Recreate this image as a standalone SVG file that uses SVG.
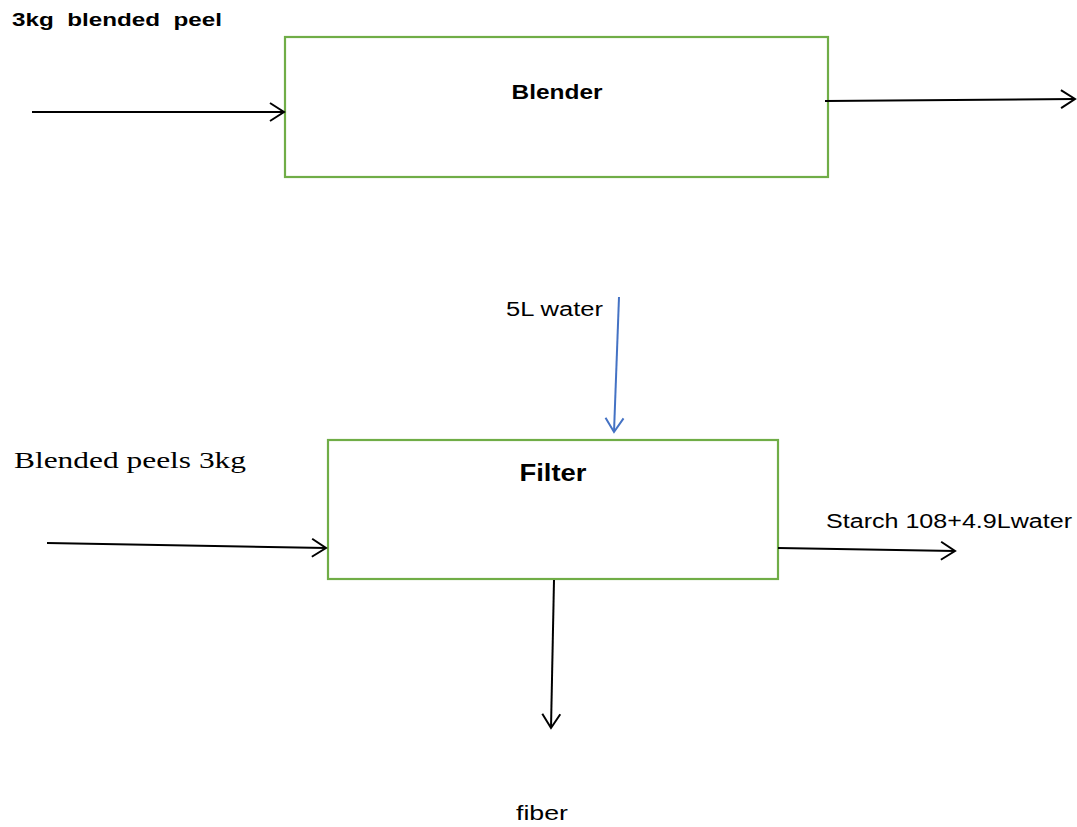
<svg xmlns="http://www.w3.org/2000/svg" width="1077" height="827" viewBox="0 0 1077 827">
<style>
.box{fill:#fff;stroke:#70AD47;stroke-width:2.2}
.ln{stroke:#000;stroke-width:2;fill:none}
.bl{stroke:#4472C4;stroke-width:2;fill:none}
.t{font-family:"Liberation Sans","Open Sans",sans-serif;fill:#000}
.b{font-weight:bold}
.serif{font-family:"Liberation Serif",serif;fill:#000}
</style>
<defs>
<marker id="ah" markerUnits="userSpaceOnUse" markerWidth="26" markerHeight="26" refX="22" refY="11" orient="auto" viewBox="0 0 26 22">
<path d="M8,2 L22,11 L8,20" fill="none" stroke="#000" stroke-width="2"/>
</marker>
<marker id="ahb" markerUnits="userSpaceOnUse" markerWidth="26" markerHeight="26" refX="22" refY="11" orient="auto" viewBox="0 0 26 22">
<path d="M8,2 L22,11 L8,20" fill="none" stroke="#4472C4" stroke-width="2"/>
</marker>
</defs>
<rect width="1077" height="827" fill="#fff"/>
<g id="blender">
<rect class="box" x="285" y="37" width="543" height="140"/>
<text class="t b" x="557" y="99" font-size="20" text-anchor="middle" textLength="91" lengthAdjust="spacingAndGlyphs">Blender</text>
</g>
<g id="filter">
<rect class="box" x="328" y="440" width="450" height="139"/>
<text class="t b" x="553" y="481" font-size="23" text-anchor="middle" textLength="67" lengthAdjust="spacingAndGlyphs">Filter</text>
</g>
<g id="labels">
<text class="t b" x="12" y="26" font-size="19" textLength="210" lengthAdjust="spacingAndGlyphs" xml:space="preserve">3kg  blended  peel</text>
<text class="t" x="506" y="316" font-size="20" textLength="97" lengthAdjust="spacingAndGlyphs">5L water</text>
<text class="serif" x="14" y="468" font-size="24" textLength="232" lengthAdjust="spacingAndGlyphs">Blended peels 3kg</text>
<text class="t" x="826" y="528" font-size="20" textLength="246" lengthAdjust="spacingAndGlyphs">Starch 108+4.9Lwater</text>
<text class="t" x="516" y="820" font-size="20" textLength="52" lengthAdjust="spacingAndGlyphs">fiber</text>
</g>
<g id="connectors">
<line class="ln" x1="32" y1="112" x2="284" y2="112" marker-end="url(#ah)"/>
<line class="ln" x1="825" y1="101" x2="1075" y2="99" marker-end="url(#ah)"/>
<line class="bl" x1="619" y1="297" x2="614" y2="432" marker-end="url(#ahb)"/>
<line class="ln" x1="47" y1="543" x2="326" y2="548" marker-end="url(#ah)"/>
<line class="ln" x1="778" y1="548" x2="955" y2="551" marker-end="url(#ah)"/>
<line class="ln" x1="554" y1="580" x2="551" y2="728" marker-end="url(#ah)"/>
</g>
</svg>
